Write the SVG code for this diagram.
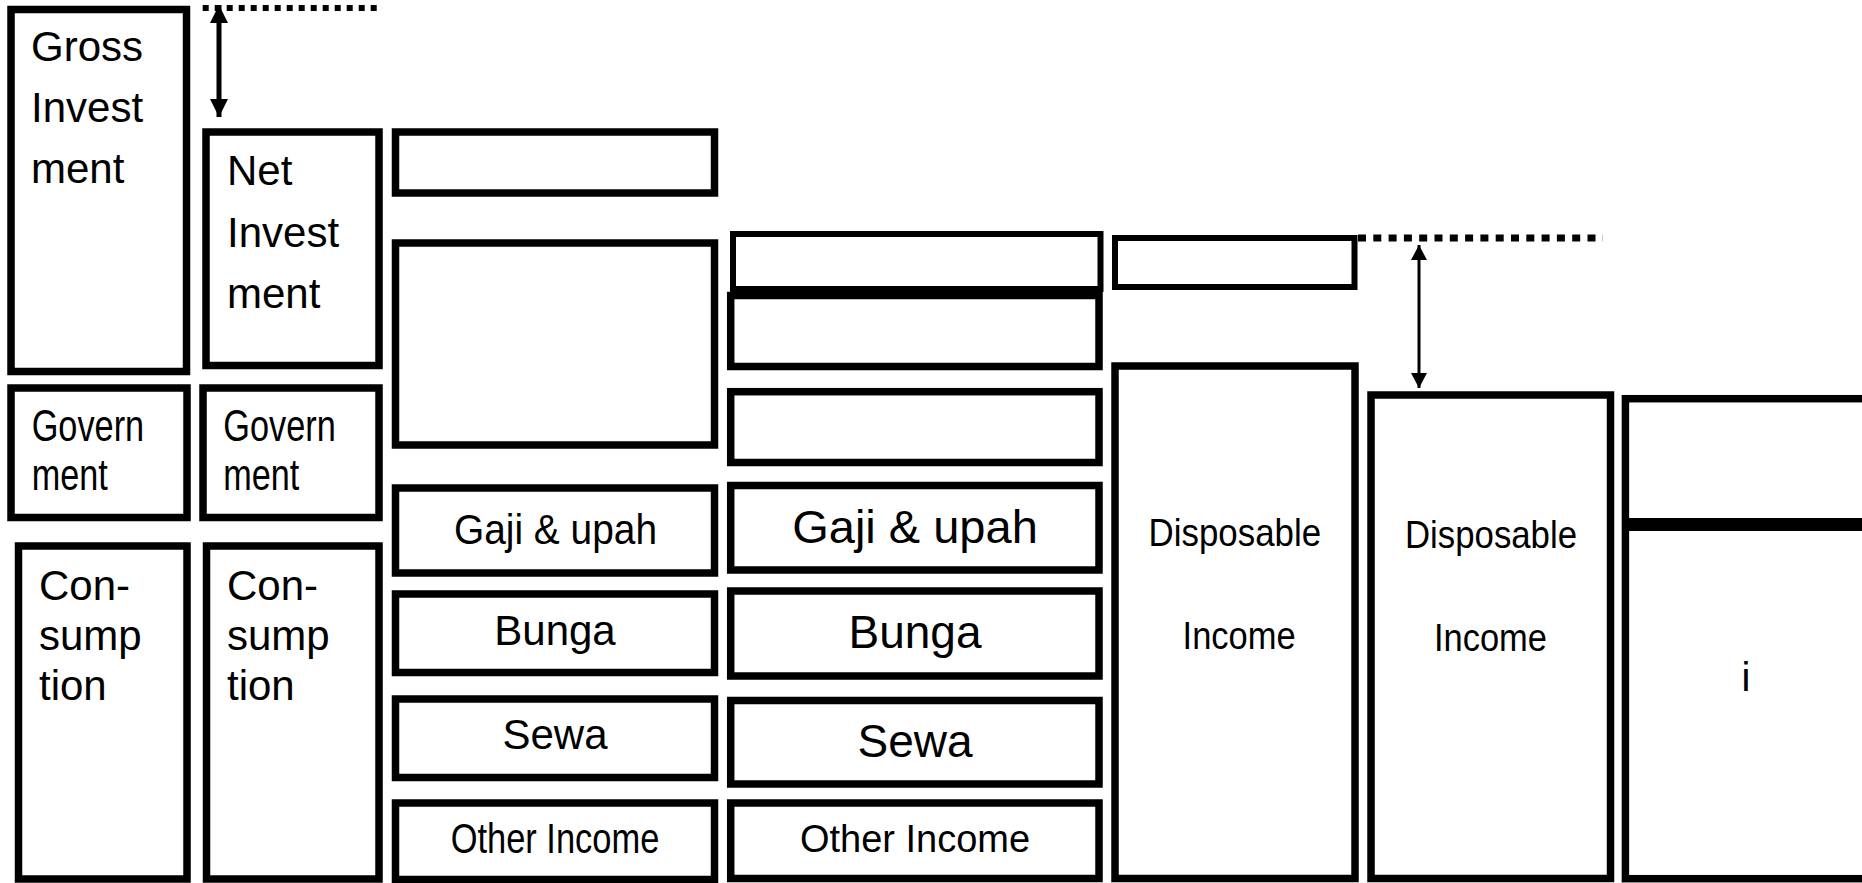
<svg xmlns="http://www.w3.org/2000/svg" width="1862" height="883" viewBox="0 0 1862 883">
<defs>
<style>
.box{fill:#fff;stroke:#000;stroke-width:7.5}
.thin{fill:#fff;stroke:#000;stroke-width:6}
.t{font-family:"Liberation Sans",Arial,sans-serif;fill:#000}
.c{text-anchor:middle}
.dot{stroke:#000;fill:none}
</style>
<marker id="headA" markerUnits="userSpaceOnUse" markerWidth="18" markerHeight="18" viewBox="0 0 18 18" refX="18" refY="9" orient="auto-start-reverse"><path d="M0,0 L18,9 L0,18 z" fill="#000"/></marker>
<marker id="headB" markerUnits="userSpaceOnUse" markerWidth="15" markerHeight="16" viewBox="0 0 15 16" refX="15" refY="8" orient="auto-start-reverse"><path d="M0,0 L15,8 L0,16 z" fill="#000"/></marker>
</defs>
<rect width="1862" height="883" fill="#fff"/>

<g id="gross-investment">
<rect class="box" x="11" y="9.5" width="175.5" height="362"/>
<text class="t" font-size="42" x="31" y="61">Gross</text>
<text class="t" font-size="42" x="31" y="122">Invest</text>
<text class="t" font-size="42" x="31" y="183">ment</text>
</g>
<g id="government-1">
<rect class="box" x="11" y="388" width="176" height="129.5"/>
<text class="t" font-size="44" x="31.7" y="441" textLength="112.5" lengthAdjust="spacingAndGlyphs">Govern</text>
<text class="t" font-size="44" x="31.7" y="490" textLength="76" lengthAdjust="spacingAndGlyphs">ment</text>
</g>
<g id="consumption-1">
<rect class="box" x="18.5" y="546" width="168.5" height="333"/>
<text class="t" font-size="42" x="39" y="600">Con-</text>
<text class="t" font-size="42" x="39" y="650">sump</text>
<text class="t" font-size="42" x="39" y="700">tion</text>
</g>

<g id="net-investment">
<rect class="box" x="206" y="132" width="173" height="233.5"/>
<text class="t" font-size="42" x="227" y="185">Net</text>
<text class="t" font-size="42" x="227" y="247">Invest</text>
<text class="t" font-size="42" x="227" y="308">ment</text>
</g>
<g id="government-2">
<rect class="box" x="203" y="388" width="176" height="129.5"/>
<text class="t" font-size="44" x="223.3" y="441" textLength="112.5" lengthAdjust="spacingAndGlyphs">Govern</text>
<text class="t" font-size="44" x="223.3" y="490" textLength="76" lengthAdjust="spacingAndGlyphs">ment</text>
</g>
<g id="consumption-2">
<rect class="box" x="206.5" y="546" width="172.5" height="333"/>
<text class="t" font-size="42" x="227" y="600">Con-</text>
<text class="t" font-size="42" x="227" y="650">sump</text>
<text class="t" font-size="42" x="227" y="700">tion</text>
</g>

<g id="col3-top"><rect class="box" x="395.5" y="132" width="319" height="61"/></g>
<g id="col3-big"><rect class="box" x="395.5" y="243" width="319" height="202"/></g>
<g id="col3-gaji">
<rect class="box" x="395.5" y="488" width="319" height="85"/>
<text class="t" font-size="43" x="454" y="544" textLength="203" lengthAdjust="spacingAndGlyphs">Gaji &amp; upah</text>
</g>
<g id="col3-bunga">
<rect class="box" x="395.5" y="594" width="319" height="78.5"/>
<text class="t c" font-size="42" x="555" y="645">Bunga</text>
</g>
<g id="col3-sewa">
<rect class="box" x="395.5" y="699" width="319" height="78.5"/>
<text class="t c" font-size="42" x="555" y="749.3">Sewa</text>
</g>
<g id="col3-other">
<rect class="box" x="395.5" y="803" width="319" height="76.5"/>
<text class="t" font-size="43" x="450.7" y="853.3" textLength="208.6" lengthAdjust="spacingAndGlyphs">Other Income</text>
</g>

<g id="col4-top"><rect class="thin" x="733" y="234" width="367.5" height="55"/></g>
<g id="col4-box2"><rect class="box" x="730.7" y="295.5" width="368.3" height="71"/></g>
<g id="col4-box3"><rect class="box" x="730.7" y="391.7" width="368.3" height="70.8"/></g>
<g id="col4-gaji">
<rect class="box" x="730.7" y="485.5" width="368.3" height="84.5"/>
<text class="t c" font-size="47" x="915" y="542.7">Gaji &amp; upah</text>
</g>
<g id="col4-bunga">
<rect class="box" x="730.7" y="591" width="368.3" height="85"/>
<text class="t c" font-size="46" x="915" y="648.3">Bunga</text>
</g>
<g id="col4-sewa">
<rect class="box" x="730.7" y="700.5" width="368.3" height="83.5"/>
<text class="t c" font-size="46" x="915" y="756.7">Sewa</text>
</g>
<g id="col4-other">
<rect class="box" x="730.7" y="803" width="368.3" height="75.5"/>
<text class="t c" font-size="38" x="915" y="851.7">Other Income</text>
</g>

<g id="col5-top"><rect class="thin" x="1115" y="238" width="239.5" height="49"/></g>
<g id="disposable-income-1">
<rect class="box" x="1115" y="366" width="240" height="512.5"/>
<text class="t" font-size="39" x="1148.6" y="546" textLength="172.5" lengthAdjust="spacingAndGlyphs">Disposable</text>
<text class="t" font-size="39" x="1182.6" y="648.6" textLength="113" lengthAdjust="spacingAndGlyphs">Income</text>
</g>
<g id="disposable-income-2">
<rect class="box" x="1371" y="395" width="239.5" height="483.5"/>
<text class="t" font-size="39" x="1405" y="548.4" textLength="172" lengthAdjust="spacingAndGlyphs">Disposable</text>
<text class="t" font-size="39" x="1434" y="650.8" textLength="113" lengthAdjust="spacingAndGlyphs">Income</text>
</g>
<g id="col7">
<rect class="box" x="1625.4" y="398.7" width="245" height="480"/>
<line x1="1625" y1="524.5" x2="1870" y2="524.5" stroke="#000" stroke-width="13"/>
<text class="t c" font-size="40" x="1746" y="691">i</text>
</g>

<g id="connectors">
<line class="dot" x1="202.7" y1="8" x2="377" y2="8" stroke-width="6" stroke-dasharray="6 6"/>
<line x1="219" y1="5" x2="219" y2="117" stroke="#000" stroke-width="5" marker-start="url(#headA)" marker-end="url(#headA)"/>
<line class="dot" x1="1358" y1="238" x2="1603" y2="238" stroke-width="7" stroke-dasharray="8 7.3"/>
<line x1="1419" y1="245" x2="1419" y2="388" stroke="#000" stroke-width="3" marker-start="url(#headB)" marker-end="url(#headB)"/>
</g>
</svg>
